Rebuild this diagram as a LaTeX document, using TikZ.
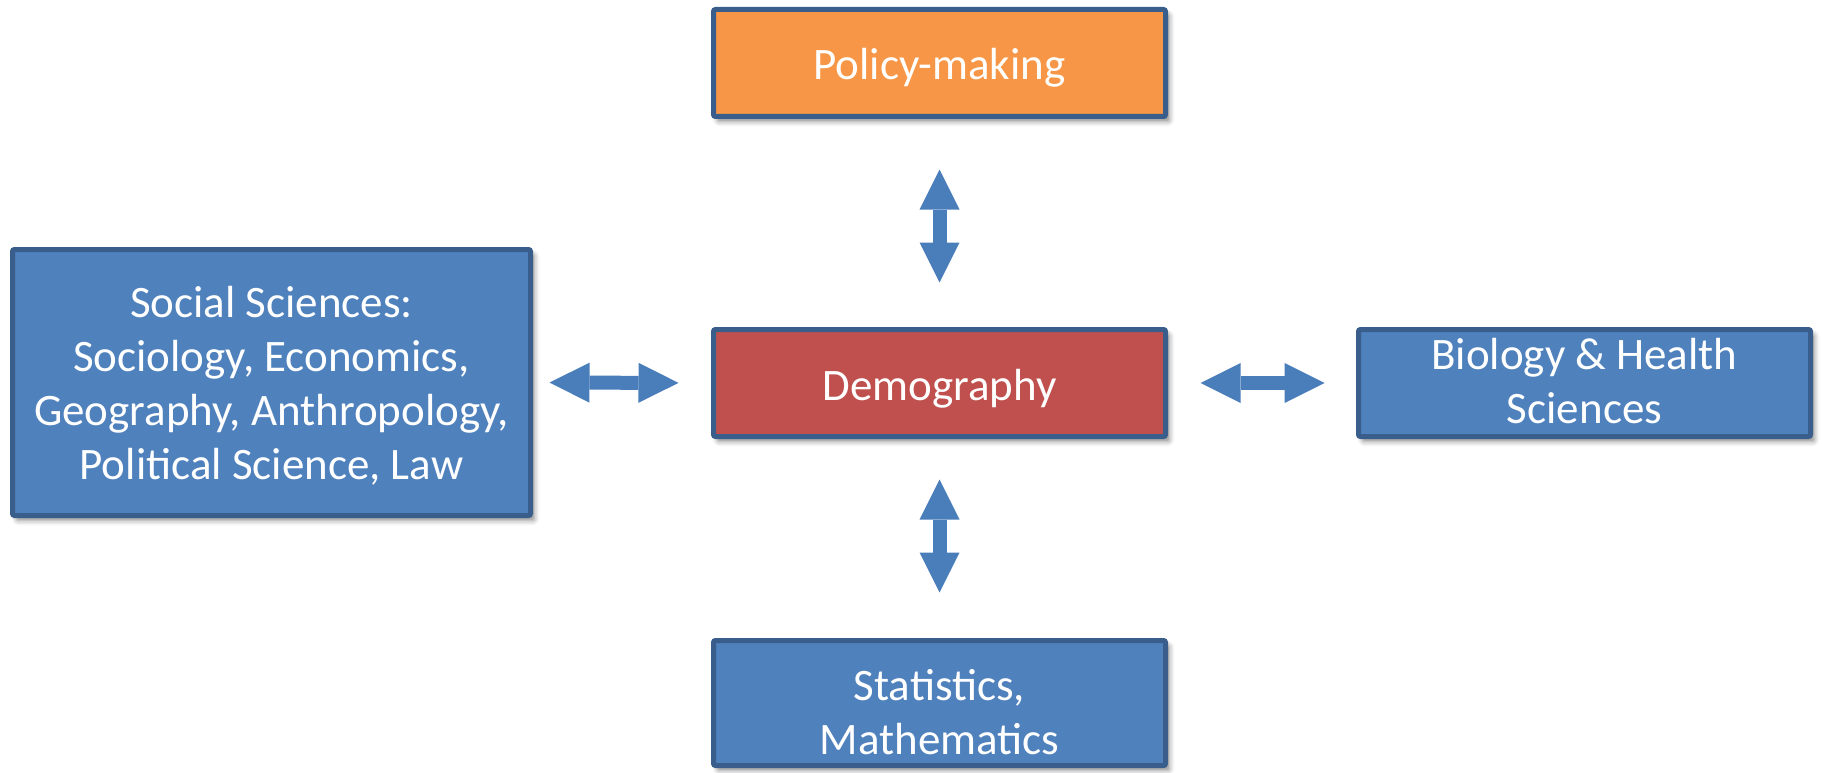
\documentclass[tikz,border=0pt]{standalone}
\usepackage{fontspec}
\setmainfont{Carlito}
\usetikzlibrary{arrows.meta,shadows.blur}
\definecolor{boxline}{HTML}{3A5E8C}
\definecolor{boxblue}{HTML}{4F81BD}
\definecolor{boxred}{HTML}{C0504D}
\definecolor{boxorange}{HTML}{F79646}
\definecolor{arrowblue}{HTML}{4A7EBB}
\newcommand{\topstrut}[1]{\rule{0pt}{#1}}
\newcommand{\botstrut}[1]{\rule[-#1]{0pt}{0pt}}
\begin{document}
\begin{tikzpicture}[x=1pt,y=-1pt,
  box/.style={draw=boxline,line width=5pt,rounded corners=2pt,text=white,
    align=center,font=\fontsize{45}{54}\selectfont,inner sep=0pt,
    minimum width=452pt,minimum height=107pt,
    blur shadow={shadow xshift=4pt,shadow yshift=-5pt,shadow blur radius=5pt,shadow opacity=45}},
  oneline/.style={text height=43pt,text depth=9pt},
  blockarrow/.style={draw=arrowblue,line width=14pt,
    {Triangle[length=40pt,width=40pt,line width=0pt]}-{Triangle[length=40pt,width=40pt,line width=0pt]}}
]
\useasboundingbox (0,0) rectangle (1822,773);
\node[box,oneline,fill=boxorange] (pol) at (939.5,63) {Policy-making};
\node[box,oneline,fill=boxred] (dem) at (939.5,383) {Demography};
\node[box,fill=boxblue] (bio) at (1584.5,383) {Biology \& Health\\Sciences\botstrut{4pt}};
\node[box,fill=boxblue,minimum width=518pt,minimum height=266pt] (soc) at (271.5,382.5)
  {\topstrut{38pt}Social Sciences:\\Sociology, Economics,\\Geography, Anthropology,\\Political Science, Law};
\node[box,fill=boxblue,minimum height=125pt] (sta) at (939.5,703) {\topstrut{49pt}Statistics,\\Mathematics};
\draw[blockarrow,shorten <=50.5pt,shorten >=44.5pt] (pol.south) -- (dem.north);
\draw[blockarrow,shorten <=40.5pt,shorten >=45.5pt] (dem.south) -- (sta.north);
\draw[blockarrow,shorten <=16.5pt,shorten >=32.5pt] (soc.east) -- (dem.west);
\draw[blockarrow,shorten <=32.5pt,shorten >=31.5pt] (dem.east) -- (bio.west);
\end{tikzpicture}
\end{document}
